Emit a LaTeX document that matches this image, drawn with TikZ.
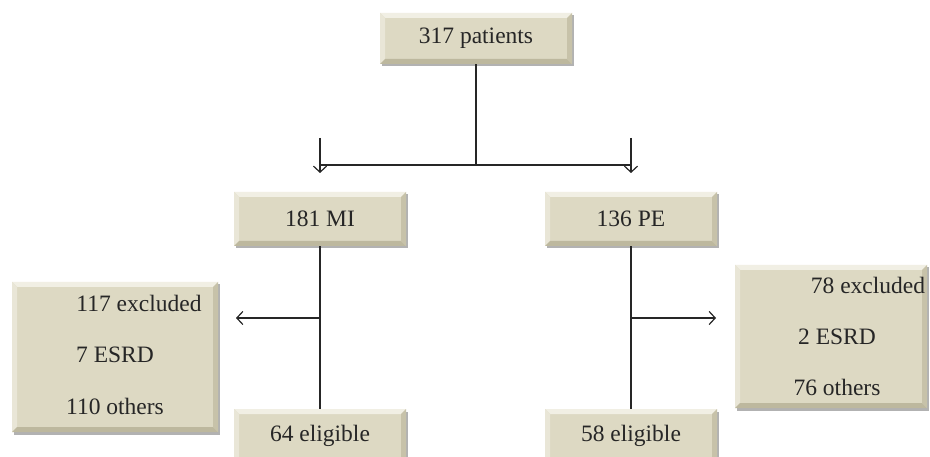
\documentclass[tikz,border=0pt]{standalone}
\usepackage{fontspec}
\setmainfont{Liberation Serif}
\usetikzlibrary{arrows.meta,shadows}
\definecolor{boxfill}{HTML}{DDD9C3}
\definecolor{bevlight}{HTML}{F1EFE4}
\definecolor{bevdark}{HTML}{BDB89E}
\definecolor{txt}{HTML}{262626}
\tikzset{
  bev/.style={
    path picture={
      \def\bb{path picture bounding box}
      \fill[bevlight] (\bb.north west) -- (\bb.north east) -- ([xshift=-5pt,yshift=-5pt]\bb.north east) -- ([xshift=5pt,yshift=-5pt]\bb.north west) -- cycle;
      \fill[bevlight!60!boxfill] (\bb.north west) -- ([xshift=5pt,yshift=-5pt]\bb.north west) -- ([xshift=5pt,yshift=5pt]\bb.south west) -- (\bb.south west) -- cycle;
      \fill[bevdark] (\bb.south west) -- (\bb.south east) -- ([xshift=-5pt,yshift=5pt]\bb.south east) -- ([xshift=5pt,yshift=5pt]\bb.south west) -- cycle;
      \fill[bevdark!70!boxfill] (\bb.north east) -- ([xshift=-5pt,yshift=-5pt]\bb.north east) -- ([xshift=-5pt,yshift=5pt]\bb.south east) -- (\bb.south east) -- cycle;
    }},
  boxnode/.style={fill=boxfill, bev, inner sep=0pt, font=\fontsize{23.5}{26}\selectfont, text=txt,
    drop shadow={shadow xshift=1.5pt, shadow yshift=-2.5pt, fill=black, opacity=0.3}},
  lbl/.style={font=\fontsize{23.5}{26}\selectfont, text=txt, inner sep=0pt},
  conn/.style={line width=1.2pt, draw=black!85},
  arr/.style={conn, -{Straight Barb[length=6pt,width=13pt,line width=1.2pt]}},
}
\begin{document}
\begin{tikzpicture}[x=1pt,y=-1pt]
\useasboundingbox (0,0) rectangle (930,457);
\clip (0,0) rectangle (930,457);
\fill[white] (0,0) rectangle (930,457);

\node[boxnode, minimum width=192pt, minimum height=51pt] (top) at (476,38.5) {317 patients};
\node[boxnode, minimum width=172pt, minimum height=54pt] (mi) at (320,219) {181 MI};
\node[boxnode, minimum width=172pt, minimum height=54pt] (pe) at (631,219) {136 PE};
\node[boxnode, minimum width=172pt, minimum height=54pt] (el1) at (320,436) {\raisebox{3pt}{64 eligible}};
\node[boxnode, minimum width=172pt, minimum height=54pt] (el2) at (631,436) {\raisebox{3pt}{58 eligible}};
\node[boxnode, minimum width=206pt, minimum height=150pt] (exl) at (115,357) {};
\node[boxnode, minimum width=192pt, minimum height=143pt] (exr) at (831,336.5) {};

\node[lbl] (exl1) at (139,303) {117 excluded};
\node[lbl] (exl2) at (115,355) {7 ESRD};
\node[lbl] (exl3) at (115,406) {110 others};
\node[lbl] (exr1) at (868,285) {78 excluded};
\node[lbl] (exr2) at (837,337) {2 ESRD};
\node[lbl] (exr3) at (837,387) {76 others};

\coordinate (hm) at (476,165);
\coordinate (hl) at (320,165);
\coordinate (hr) at (631,165);
\coordinate (al0) at (320,138);
\coordinate (al1) at (320,173);
\coordinate (ar0) at (631,138);
\coordinate (ar1) at (631,173);
\coordinate (ml) at (320,318);
\coordinate (mlt) at (236,318);
\coordinate (mr) at (631,318);
\coordinate (mrt) at (716,318);

\draw[conn] (top.south) -- (hm);
\draw[conn] (hl) -- (hr);
\draw[arr] (al0) -- (al1);
\draw[arr] (ar0) -- (ar1);
\draw[conn] (mi.south) -- (el1.north);
\draw[conn] (pe.south) -- (el2.north);
\draw[arr] (ml) -- (mlt);
\draw[arr] (mr) -- (mrt);
\end{tikzpicture}
\end{document}
